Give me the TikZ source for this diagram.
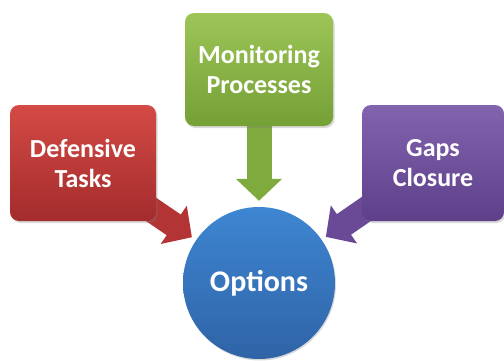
\documentclass[tikz,border=0pt]{standalone}
\usepackage{fontspec}
\setmainfont{Carlito}
\usetikzlibrary{arrows.meta,shadows,backgrounds}
\definecolor{redT}{HTML}{D44A45}
\definecolor{redB}{HTML}{A32C2C}
\definecolor{redA}{HTML}{B23434}
\definecolor{greenT}{HTML}{9DC557}
\definecolor{greenB}{HTML}{74A036}
\definecolor{greenA}{HTML}{7FAA3E}
\definecolor{purT}{HTML}{8264AE}
\definecolor{purB}{HTML}{5E3F8A}
\definecolor{purA}{HTML}{6A4A96}
\definecolor{bluT}{HTML}{3E86D2}
\definecolor{bluB}{HTML}{2F63A6}
\begin{document}
\begin{tikzpicture}[x=1pt,y=1pt,
  box/.style={rounded corners=9pt, minimum width=146pt, minimum height=116pt,
    align=center, text=white, font=\fontsize{26}{30}\selectfont\bfseries,
    drop shadow={shadow xshift=1.5pt,shadow yshift=-2pt,opacity=0.3}},
  fat/.style={line width=25pt, -{Triangle[length=22pt,width=45pt]}, shorten >=5pt}]
\useasboundingbox (0,0) rectangle (504,360);
\node[box, top color=redT, bottom color=redB] (def) at (83,197) {Defensive\\Tasks};
\node[box, minimum width=148pt, minimum height=113pt, top color=greenT, bottom color=greenB] (mon) at (259,290.5) {Monitoring\\Processes};
\node[box, minimum width=142pt, top color=purT, bottom color=purB] (gap) at (433,197) {Gaps\\Closure};
\node[circle, minimum size=152pt, inner sep=0pt, top color=bluT, bottom color=bluB,
  text=white, font=\fontsize{30}{34}\selectfont\bfseries,
  drop shadow={shadow xshift=1pt,shadow yshift=-1.5pt,opacity=0.3}] (opt) at (259,77) {Options};
\begin{scope}[on background layer]
  \draw[fat, draw=redA] (def.center) -- (opt);
  \draw[fat, draw=greenA, shorten >=6pt] (mon.center) -- (opt);
  \draw[fat, draw=purA] (gap.center) -- (opt);
\end{scope}
\end{tikzpicture}
\end{document}
